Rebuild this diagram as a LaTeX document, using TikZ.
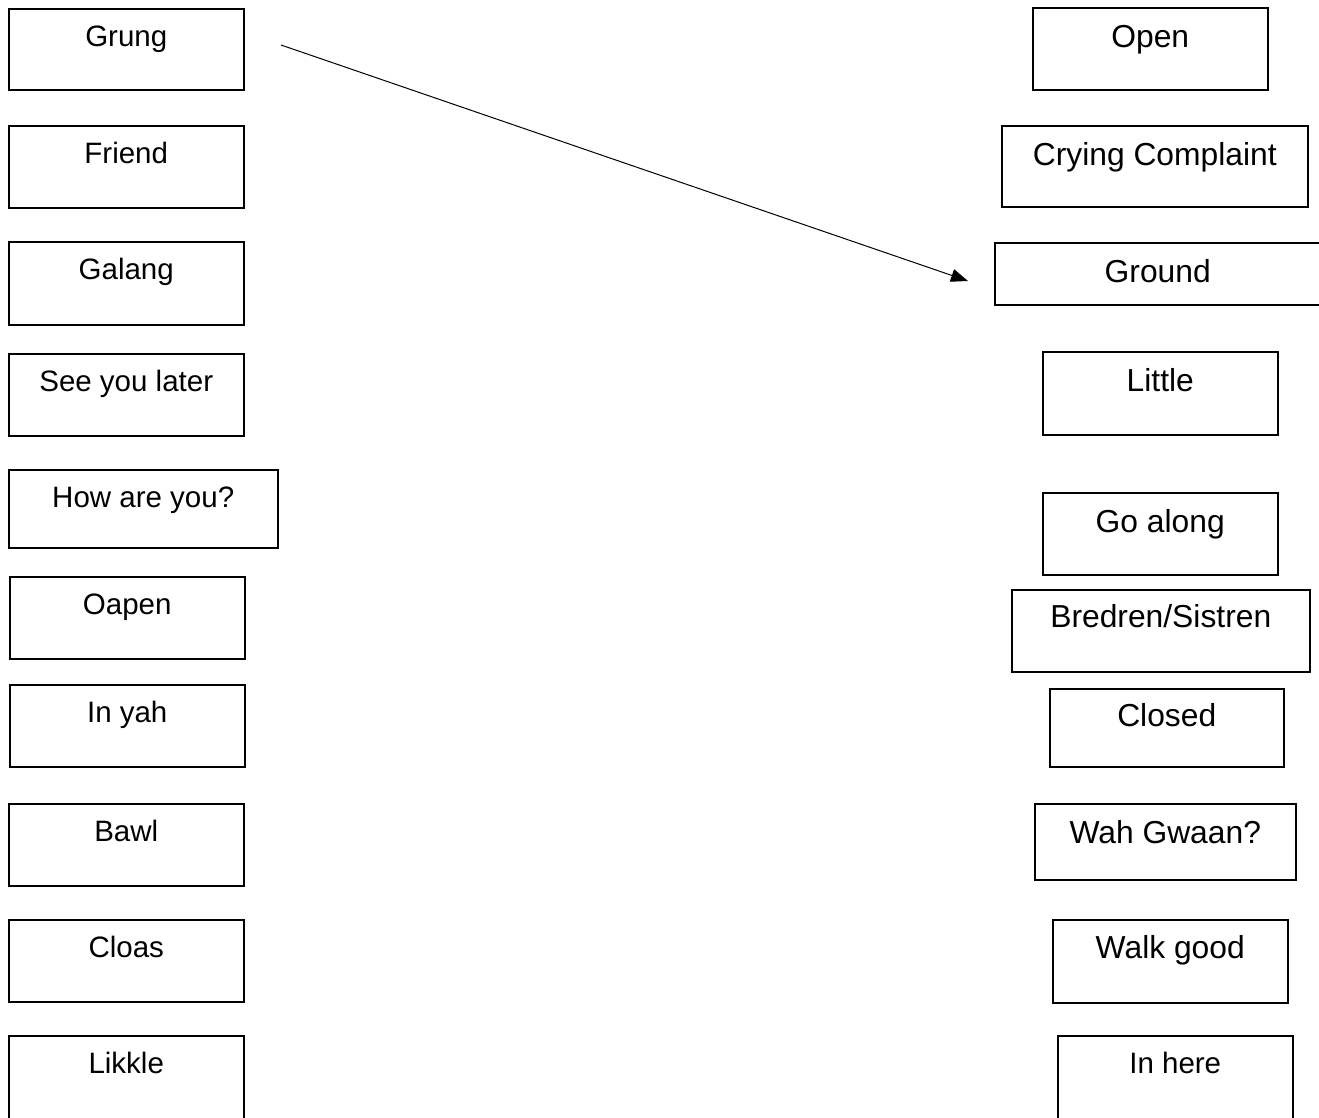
\documentclass[tikz,border=0pt]{standalone}
\usepackage{fontspec}
\setmainfont{Liberation Sans}
\usepackage{tikz}
\usetikzlibrary{arrows.meta}

\tikzset{
  word/.style={draw, line width=1.5pt, anchor=north west, inner sep=0pt},
  lword/.style={word, text height=38pt, font=\fontsize{29.5}{33}\selectfont},
  rword/.style={word, text height=40pt, font=\fontsize{31.8}{36}\selectfont}
}

\begin{document}
\begin{tikzpicture}[x=1pt, y=-1pt]
  \useasboundingbox (0,0) rectangle (1319,1117);
  \node[lword, minimum width=235pt, text depth=43pt] (grung)     at (8,8)    {Grung};
  \node[lword, minimum width=235pt, text depth=44pt] (friend)    at (8,125)  {Friend};
  \node[lword, minimum width=235pt, text depth=45pt] (galang)    at (8,241)  {Galang};
  \node[lword, minimum width=235pt, text depth=44pt] (later)     at (8,353)  {See you later};
  \node[lword, minimum width=269pt, text depth=40pt] (howareyou) at (8,469)  {How are you?};
  \node[lword, minimum width=235pt, text depth=44pt] (oapen)     at (9,576)  {Oapen};
  \node[lword, minimum width=235pt, text depth=44pt] (inyah)     at (9,684)  {In yah};
  \node[lword, minimum width=235pt, text depth=44pt] (bawl)      at (8,803)  {Bawl};
  \node[lword, minimum width=235pt, text depth=44pt] (cloas)     at (8,919)  {Cloas};
  \node[lword, minimum width=235pt, text depth=50pt] (likkle)    at (8,1035) {Likkle};

  \node[rword, minimum width=235pt, text depth=42pt] (open)      at (1032,7)   {Open};
  \node[rword, minimum width=306pt, text depth=41pt] (crying)    at (1001,125) {Crying Complaint};
  \node[rword, minimum width=330pt, text depth=22pt] (ground)    at (994,242)  {\hspace*{-4pt}Ground};
  \node[rword, minimum width=235pt, text depth=43pt] (little)    at (1042,351) {Little};
  \node[rword, minimum width=235pt, text depth=42pt] (goalong)   at (1042,492) {Go along};
  \node[rword, minimum width=298pt, text depth=44pt, text height=38pt] (bredren) at (1011,589) {Bredren/Sistren};
  \node[rword, minimum width=234pt, text depth=40pt, text height=38pt] (closed)  at (1049,688) {Closed};
  \node[rword, minimum width=261pt, text depth=36pt] (wahgwaan)  at (1034,803) {Wah Gwaan?};
  \node[rword, minimum width=235pt, text depth=44pt, text height=39pt] (walkgood) at (1052,919) {Walk good};
  \node[lword, minimum width=235pt, text depth=50pt] (inhere)    at (1057,1035) {In here};

  \coordinate (tail) at (281,45);
  \coordinate (head) at (968,281);
  \path[-{Triangle[length=17pt,width=13pt]}, line width=1pt]
  (tail) edge (head);
\end{tikzpicture}
\end{document}
